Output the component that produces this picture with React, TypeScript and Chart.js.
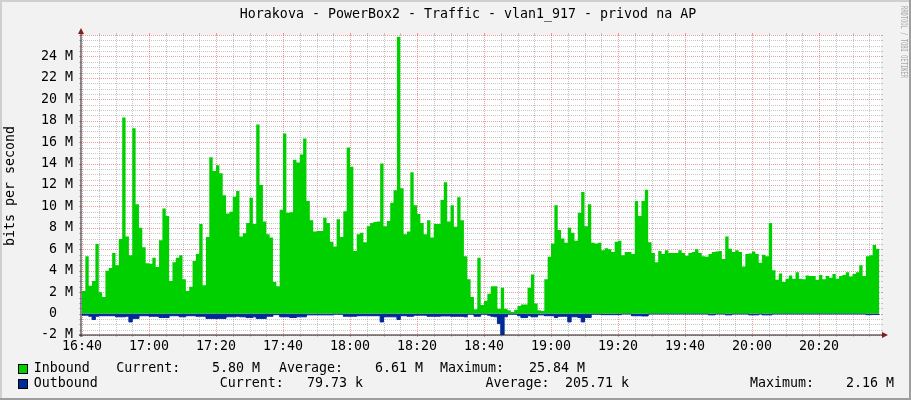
import React, { useEffect, useRef } from "react";
import { Chart, registerables } from "chart.js";

Chart.register(...registerables);

// ---------- text ----------
const TITLE = "Horakova - PowerBox2 - Traffic - vlan1_917 - privod na AP";
const Y_TITLE = "bits per second";
const WATERMARK = "RRDTOOL / TOBI OETIKER";

// ---------- axes ----------
const START_TIME = "16:40"; // data index 0, one value per minute
const X_TICK_LABELS = ["16:40", "17:00", "17:20", "17:40", "18:00", "18:20", "18:40", "19:00", "19:20", "19:40", "20:00", "20:20"];
const Y_TICK_VALUES = [-2, 0, 2, 4, 6, 8, 10, 12, 14, 16, 18, 20, 22, 24];
const Y_TICK_LABELS = ["-2 M", "0  ", "2 M", "4 M", "6 M", "8 M", "10 M", "12 M", "14 M", "16 M", "18 M", "20 M", "22 M", "24 M"];
const Y_MIN = -2;
const Y_MAX = 26;
const X_MIN = -0.3; // minutes after START_TIME
const X_MAX = 238.5;

// ---------- series (Mbit/s, one per minute) ----------
const INBOUND_MBPS = [
  2.1, 5.35, 2.6, 3.05, 6.5, 2.0, 1.55, 4.0, 4.25, 5.65,
  4.5, 6.95, 18.3, 7.2, 5.45, 17.3, 10.2, 8.0, 6.2, 4.7,
  4.65, 5.2, 4.35, 6.85, 9.8, 9.1, 3.05, 4.8, 5.2, 5.45,
  3.2, 2.1, 2.5, 4.9, 5.55, 8.35, 2.65, 7.15, 14.6, 13.3,
  13.85, 13.1, 11.05, 9.35, 9.5, 10.9, 11.45, 7.2, 7.5, 8.45,
  10.8, 8.35, 17.65, 12.0, 8.6, 7.4, 7.1, 2.95, 2.55, 9.7,
  16.8, 9.4, 9.45, 14.35, 14.1, 14.85, 16.35, 10.5, 8.7, 7.65,
  7.7, 7.7, 8.95, 8.45, 6.7, 6.25, 8.8, 7.15, 9.55, 15.5,
  13.7, 5.85, 7.4, 7.55, 6.65, 8.15, 8.45, 8.55, 8.6, 14.0,
  8.15, 8.65, 10.35, 11.5, 25.84, 11.7, 7.4, 7.65, 13.2, 10.1,
  9.3, 8.45, 7.4, 8.7, 7.1, 8.35, 8.35, 10.6, 12.25, 8.6,
  10.1, 8.1, 10.85, 8.7, 5.35, 3.2, 1.55, 0.4, 5.2, 0.8,
  1.2, 1.85, 2.55, 2.55, 0.45, 2.4, 0.45, 0.3, 0.15, 0.35,
  0.7, 0.85, 0.85, 2.4, 3.65, 0.95, 0.3, 0.25, 3.2, 5.3,
  6.55, 10.1, 7.8, 7.0, 6.6, 8.0, 7.55, 6.8, 9.4, 11.35,
  8.15, 10.2, 6.6, 6.55, 6.6, 5.9, 6.1, 6.0, 5.75, 6.7,
  6.8, 5.45, 5.75, 5.75, 5.55, 10.5, 9.1, 10.5, 11.55, 6.65,
  5.65, 4.8, 5.85, 5.55, 5.9, 5.65, 5.65, 5.65, 5.9, 5.65,
  5.4, 5.65, 5.75, 6.0, 5.65, 5.35, 5.3, 5.55, 5.75, 5.8,
  5.85, 5.1, 7.2, 6.05, 5.75, 5.9, 5.75, 4.4, 5.55, 5.6,
  5.8, 5.55, 4.75, 5.5, 5.35, 8.45, 4.05, 3.15, 3.75, 2.95,
  3.25, 3.55, 3.25, 3.85, 3.25, 3.2, 3.55, 3.5, 3.5, 3.15,
  3.6, 3.2, 3.5, 3.35, 3.7, 3.25, 3.5, 3.6, 3.85, 3.45,
  3.7, 3.85, 4.5, 3.5, 5.35, 5.45, 6.4, 6.05,
];

const OUTBOUND_MBPS = [
  0.15, 0.15, 0.25, 0.55, 0.25, 0.2, 0.2, 0.2, 0.2, 0.2,
  0.3, 0.3, 0.3, 0.25, 0.78, 0.45, 0.45, 0.2, 0.2, 0.2,
  0.25, 0.25, 0.25, 0.37, 0.37, 0.37, 0.2, 0.2, 0.2, 0.3,
  0.3, 0.2, 0.2, 0.2, 0.25, 0.25, 0.25, 0.45, 0.45, 0.45,
  0.45, 0.45, 0.45, 0.3, 0.3, 0.3, 0.25, 0.3, 0.3, 0.37,
  0.37, 0.3, 0.45, 0.45, 0.45, 0.25, 0.25, 0.1, 0.1, 0.3,
  0.3, 0.3, 0.37, 0.37, 0.3, 0.3, 0.3, 0.12, 0.12, 0.12,
  0.12, 0.12, 0.12, 0.12, 0.12, 0.06, 0.06, 0.06, 0.25, 0.25,
  0.25, 0.25, 0.2, 0.2, 0.2, 0.2, 0.2, 0.2, 0.2, 0.78,
  0.3, 0.3, 0.3, 0.3, 0.55, 0.2, 0.2, 0.25, 0.25, 0.15,
  0.15, 0.15, 0.15, 0.25, 0.25, 0.25, 0.25, 0.22, 0.22, 0.22,
  0.25, 0.25, 0.25, 0.25, 0.3, 0.06, 0.06, 0.25, 0.25, 0.06,
  0.06, 0.15, 0.25, 0.3, 0.93, 2.16, 0.3, 0.06, 0.06, 0.06,
  0.2, 0.37, 0.37, 0.2, 0.3, 0.3, 0.12, 0.12, 0.2, 0.2,
  0.2, 0.37, 0.25, 0.25, 0.25, 0.78, 0.3, 0.3, 0.37, 0.78,
  0.37, 0.37, 0.06, 0.06, 0.06, 0.1, 0.1, 0.1, 0.1, 0.1,
  0.1, 0.04, 0.04, 0.04, 0.2, 0.2, 0.2, 0.22, 0.22, 0.04,
  0.04, 0.04, 0.04, 0.04, 0.04, 0.04, 0.04, 0.04, 0.04, 0.04,
  0.04, 0.04, 0.04, 0.04, 0.04, 0.04, 0.04, 0.12, 0.12, 0.04,
  0.04, 0.04, 0.12, 0.12, 0.04, 0.04, 0.04, 0.04, 0.04, 0.12,
  0.12, 0.12, 0.04, 0.12, 0.12, 0.12, 0.04, 0.04, 0.04, 0.04,
  0.04, 0.04, 0.04, 0.04, 0.04, 0.04, 0.04, 0.04, 0.04, 0.04,
  0.04, 0.04, 0.04, 0.04, 0.04, 0.04, 0.04, 0.04, 0.04, 0.04,
  0.04, 0.04, 0.04, 0.04, 0.1, 0.1, 0.08, 0.08,
];

// ---------- legend ----------
const SERIES_NAMES = ["Inbound", "Outbound"];
const SERIES_COLORS = ["#00CF00", "#002A97"];
const LEGEND_INBOUND = ["Current:", "5.80 M", "Average:", "6.61 M", "Maximum:", "25.84 M"];
const LEGEND_OUTBOUND = ["Current:", "79.73 k", "Average:", "205.71 k", "Maximum:", "2.16 M"];

const FAMILY = '"DejaVu Sans Mono", monospace';
const FONT = `13.3px ${FAMILY}`;

const toMinutes = (s: string) => {
  const [h, m] = s.split(":").map(Number);
  return h * 60 + m;
};
const START_MIN = toMinutes(START_TIME);

const stepPoints = (vals: number[], sign: number) => {
  const pts = vals.map((v, i) => ({ x: i, y: sign * v }));
  // close the last one-minute step
  pts.push({ x: vals.length, y: sign * vals[vals.length - 1] });
  return pts;
};

const rrdPlugin = {
  id: "rrdLook",
  beforeDraw(chart: any) {
    const { ctx, width, height, chartArea: a } = chart;
    ctx.save();
    ctx.fillStyle = "#F2F2F2";
    ctx.fillRect(0, 0, width, height);
    ctx.fillStyle = "#CFCFCF";
    ctx.fillRect(0, 0, width, 2);
    ctx.fillRect(0, 0, 2, height);
    ctx.fillStyle = "#9E9E9E";
    ctx.fillRect(0, height - 2, width, 2);
    ctx.fillRect(width - 2, 0, 2, height);
    ctx.fillStyle = "#FFFFFF";
    ctx.fillRect(a.left, a.top, a.right - a.left, a.bottom - a.top);
    ctx.restore();
  },
  beforeDatasetsDraw(chart: any) {
    const { ctx, chartArea: a } = chart;
    const xs = chart.scales.x;
    const ys = chart.scales.y;
    const minor = "rgba(143,143,143,0.5)";
    const major = "rgba(222,79,79,0.55)";
    ctx.save();
    ctx.lineWidth = 1;
    const vline = (v: number, color: string) => {
      const x = Math.round(xs.getPixelForValue(v)) + 0.5;
      ctx.strokeStyle = color;
      ctx.setLineDash([1, 1]);
      ctx.beginPath();
      ctx.moveTo(x, a.top);
      ctx.lineTo(x, a.bottom);
      ctx.stroke();
      ctx.setLineDash([]);
      ctx.beginPath();
      ctx.moveTo(x, a.top - 2);
      ctx.lineTo(x, a.top);
      ctx.moveTo(x, a.bottom);
      ctx.lineTo(x, a.bottom + 2);
      ctx.stroke();
    };
    const hline = (v: number, color: string) => {
      const y = Math.round(ys.getPixelForValue(v)) + 0.5;
      ctx.strokeStyle = color;
      ctx.setLineDash([1, 1]);
      ctx.beginPath();
      ctx.moveTo(a.left, y);
      ctx.lineTo(a.right, y);
      ctx.stroke();
      ctx.setLineDash([]);
      ctx.beginPath();
      ctx.moveTo(a.left - 2, y);
      ctx.lineTo(a.left, y);
      ctx.moveTo(a.right, y);
      ctx.lineTo(a.right + 2, y);
      ctx.stroke();
    };
    for (let v = Math.ceil(X_MIN / 5) * 5; v <= X_MAX; v += 5) {
      if (v % 20 !== 0) vline(v, minor);
    }
    for (let v = Y_MIN; v <= Y_MAX + 1e-9; v += 0.5) {
      if (Math.abs(v % 2) > 1e-9) hline(v, minor);
    }
    for (let v = Math.ceil(X_MIN / 20) * 20; v <= X_MAX; v += 20) vline(v, major);
    for (let v = Y_MIN; v <= Y_MAX; v += 2) hline(v, major);
    ctx.restore();
  },
  afterDatasetsDraw(chart: any) {
    const { ctx, chartArea: a, width } = chart;
    ctx.save();
    // axes
    ctx.strokeStyle = "#1F1F1F";
    ctx.lineWidth = 1;
    ctx.beginPath();
    ctx.moveTo(a.left, a.bottom + 2);
    ctx.lineTo(a.left, a.top - 4);
    ctx.moveTo(a.left - 2, a.bottom);
    ctx.lineTo(a.right + 3, a.bottom);
    ctx.stroke();
    // arrows
    ctx.fillStyle = "#801F1F";
    ctx.beginPath();
    ctx.moveTo(a.left, a.top - 7);
    ctx.lineTo(a.left - 3, a.top - 1);
    ctx.lineTo(a.left + 3, a.top - 1);
    ctx.closePath();
    ctx.fill();
    ctx.beginPath();
    ctx.moveTo(a.right + 7, a.bottom);
    ctx.lineTo(a.right + 1, a.bottom - 3);
    ctx.lineTo(a.right + 1, a.bottom + 3);
    ctx.closePath();
    ctx.fill();

    // title
    ctx.fillStyle = "#000";
    ctx.font = FONT;
    ctx.textBaseline = "middle";
    ctx.textAlign = "center";
    ctx.fillText(TITLE, 468, 14.5);

    // y title
    ctx.save();
    ctx.translate(10.5, 186);
    ctx.rotate(-Math.PI / 2);
    ctx.fillText(Y_TITLE, 0, 0);
    ctx.restore();

    // watermark
    ctx.save();
    ctx.translate(903, 42);
    ctx.rotate(Math.PI / 2);
    ctx.scale(0.68, 1);
    ctx.font = `8px ${FAMILY}`;
    ctx.fillStyle = "#A8A8A8";
    ctx.fillText(WATERMARK, 0, 0);
    ctx.restore();

    // legend
    ctx.textAlign = "left";
    const rows = [
      { y: 368.5, items: [SERIES_NAMES[0], ...LEGEND_INBOUND], xs: [33.7, 116.3, 212, 279, 375, 440, 529] },
      { y: 384, items: [SERIES_NAMES[1], ...LEGEND_OUTBOUND], xs: [33.7, 219.8, 307, 485.5, 565, 750, 846] },
    ];
    rows.forEach((r, i) => {
      const by = Math.round(r.y) - 5;
      ctx.fillStyle = SERIES_COLORS[i];
      ctx.fillRect(18, by, 10, 10);
      ctx.strokeStyle = "#000";
      ctx.strokeRect(18.5, by + 0.5, 9, 9);
      ctx.fillStyle = "#000";
      r.items.forEach((t, j) => ctx.fillText(t, r.xs[j], r.y));
    });
    ctx.restore();
  },
};

export default function App() {
  const ref = useRef<HTMLCanvasElement>(null);
  useEffect(() => {
    const canvas = ref.current;
    if (!canvas) return;
    const chart = new Chart(canvas, {
      type: "line",
      data: {
        datasets: [
          {
            label: SERIES_NAMES[0],
            data: stepPoints(INBOUND_MBPS, 1),
            stepped: true,
            fill: "origin",
            backgroundColor: SERIES_COLORS[0],
            borderColor: "rgba(0,0,0,0)",
            borderWidth: 0,
            pointRadius: 0,
          },
          {
            label: SERIES_NAMES[1],
            data: stepPoints(OUTBOUND_MBPS, -1),
            stepped: true,
            fill: "origin",
            backgroundColor: SERIES_COLORS[1],
            borderColor: SERIES_COLORS[1],
            borderWidth: 1,
            pointRadius: 0,
          },
        ],
      },
      options: {
        responsive: false,
        animation: false,
        devicePixelRatio: 1,
        events: [],
        layout: { padding: { left: 0, right: 30, top: 35, bottom: 45 } },
        plugins: { legend: { display: false }, tooltip: { enabled: false }, title: { display: false } },
        scales: {
          x: {
            type: "linear",
            min: X_MIN,
            max: X_MAX,
            grid: { display: false, drawTicks: false },
            border: { display: false },
            afterBuildTicks: (s: any) => {
              s.ticks = X_TICK_LABELS.map((l) => ({ value: toMinutes(l) - START_MIN }));
            },
            afterFit: (s: any) => {
              s.height = 20;
            },
            ticks: {
              autoSkip: false,
              maxRotation: 0,
              minRotation: 0,
              padding: 4,
              color: "#000",
              font: { family: FAMILY, size: 13.3 },
              callback: (_v: any, i: number) => X_TICK_LABELS[i],
            },
          },
          y: {
            type: "linear",
            min: Y_MIN,
            max: Y_MAX,
            grid: { display: false, drawTicks: false },
            border: { display: false },
            afterBuildTicks: (s: any) => {
              s.ticks = Y_TICK_VALUES.map((v) => ({ value: v }));
            },
            afterFit: (s: any) => {
              s.width = 81;
            },
            ticks: {
              padding: 8,
              color: "#000",
              font: { family: FAMILY, size: 13.3 },
              callback: (_v: any, i: number) => Y_TICK_LABELS[i],
            },
          },
        },
      },
      plugins: [rrdPlugin],
    } as any);
    return () => chart.destroy();
  }, []);
  return (
    <div style={{ position: "fixed", left: 0, top: 0, width: 911, height: 400 }}>
      <canvas ref={ref} width={911} height={400} style={{ display: "block" }} />
    </div>
  );
}
